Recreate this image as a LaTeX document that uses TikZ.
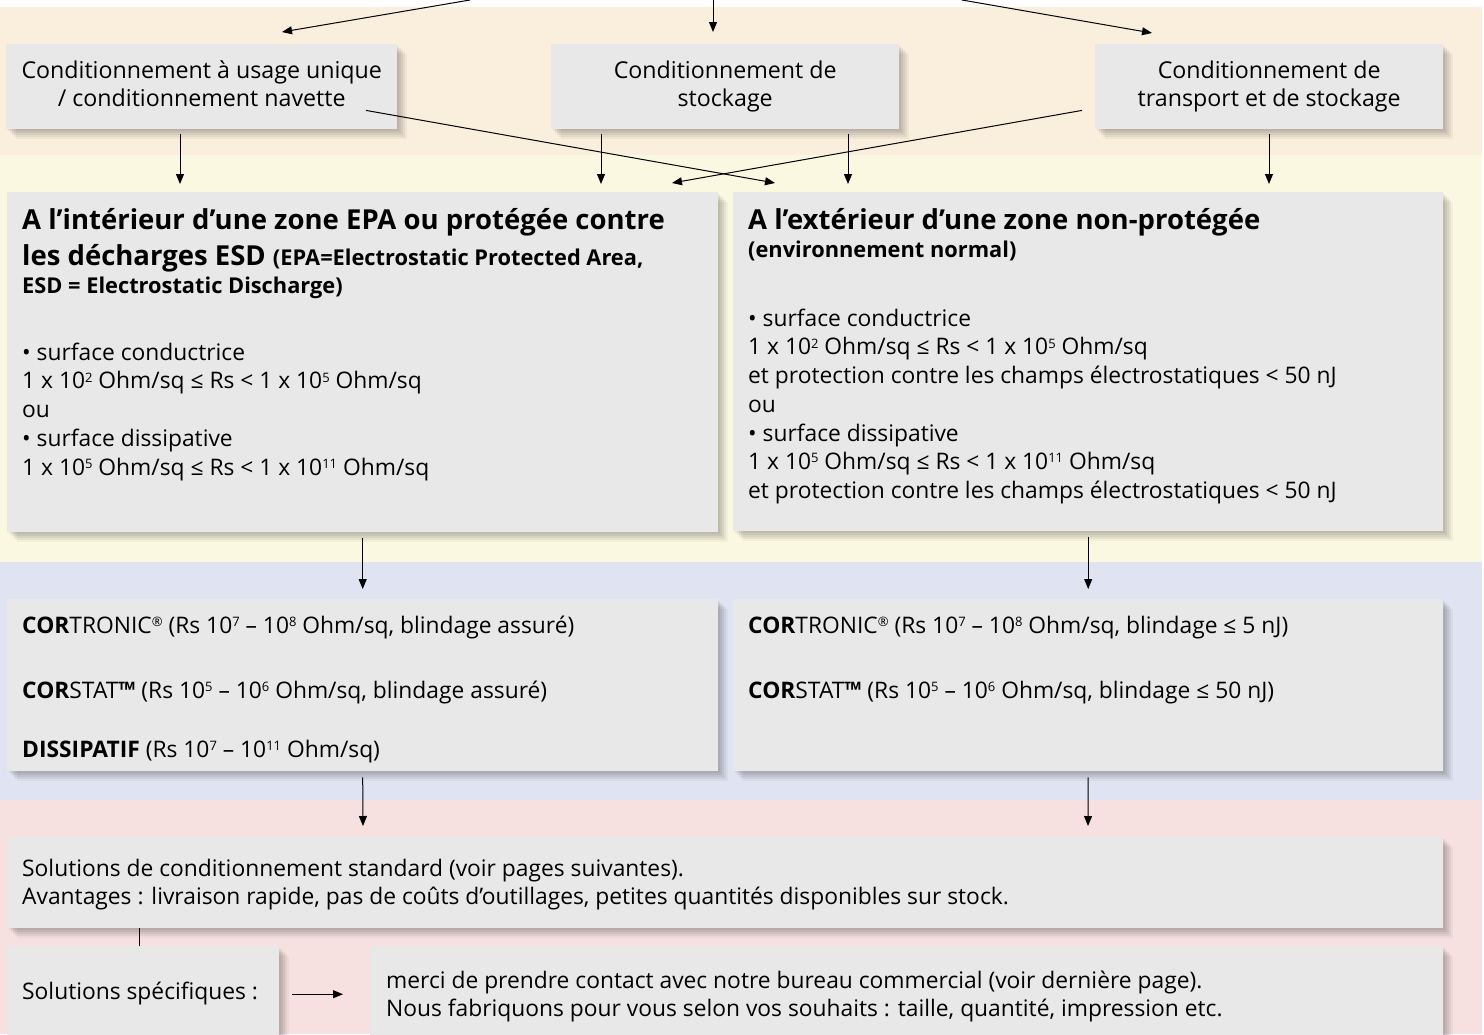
\documentclass[tikz,border=0pt]{standalone}
\usepackage{fontspec}
\setmainfont{Open Sans}
\usetikzlibrary{arrows.meta,shadows}

\definecolor{bandpeach}{RGB}{250,238,220}
\definecolor{bandyellow}{RGB}{251,248,226}
\definecolor{bandblue}{RGB}{224,227,241}
\definecolor{bandpink}{RGB}{246,225,224}
\definecolor{boxgray}{RGB}{232,232,232}

\newcommand{\topfont}{\fontsize{23.2}{28.5}\selectfont}
\newcommand{\bodyfont}{\fontsize{22.8}{28.7}\selectfont}
\newcommand{\headfont}{\fontsize{27.5}{36}\selectfont\bfseries}
\newcommand{\subfont}{\fontsize{21.8}{28}\selectfont\bfseries}
\newcommand{\supsmall}[1]{\raisebox{0.3em}{\fontsize{13}{13}\selectfont #1}}
\newcommand{\tenpow}[1]{10\supsmall{#1}}
\newcommand{\linetop}[1]{\rule{0pt}{#1}}
\newcommand{\linedepth}[1]{\rule[-#1]{0pt}{#1}}

\tikzset{
  softshadow/.style={
    general shadow={fill=black, opacity=0.06, shadow xshift=2pt, shadow yshift=-2pt},
    general shadow={fill=black, opacity=0.06, shadow xshift=4pt, shadow yshift=-4pt},
    general shadow={fill=black, opacity=0.06, shadow xshift=6pt, shadow yshift=-6pt},
    general shadow={fill=black, opacity=0.05, shadow xshift=8pt, shadow yshift=-8pt},
    general shadow={fill=black, opacity=0.04, shadow xshift=10pt, shadow yshift=-10pt}},
  box/.style={rectangle, fill=boxgray, anchor=north west, inner sep=0pt, softshadow},
  topbox/.style={minimum height=85pt, align=center, font=\topfont},
  txt/.style={anchor=north west, align=left, inner sep=0pt, font=\bodyfont},
  arr/.style={-{Triangle[length=10pt,width=8pt]}, line width=1pt},
}

\begin{document}
\begin{tikzpicture}[x=1pt, y=-1pt]
\useasboundingbox (0,0) rectangle (1484,1034);

% colour bands
\fill[bandpeach]  (0,7)   rectangle (1482,155);
\fill[bandyellow] (0,155) rectangle (1482,562);
\fill[bandblue]   (0,562) rectangle (1482,800);
\fill[bandpink]   (0,800) rectangle (1482,1034);

% packaging types
\node[box, topbox, minimum width=391pt] (usage) at (6,44) {Conditionnement à usage unique\\/ conditionnement navette\linedepth{6pt}};
\node[box, topbox, minimum width=348pt] (storage) at (551,44) {Conditionnement de\\stockage};
\node[box, topbox, minimum width=348pt] (transport) at (1095,44) {Conditionnement de\\transport et de stockage};

% zones
\node[box, minimum width=711pt, minimum height=340pt] (inside) at (7,192) {};
\node[box, minimum width=710pt, minimum height=339pt] (outside) at (733,192) {};

% materials
\node[box, minimum width=711pt, minimum height=172pt] (matin) at (7,599) {};
\node[box, minimum width=710pt, minimum height=172pt] (matout) at (733,599) {};

% solutions
\node[box, minimum width=1436pt, minimum height=91pt] (standard) at (7,837) {};
\node[box, minimum width=272pt, minimum height=96pt] (specific) at (7,946) {};
\node[box, minimum width=1073pt, minimum height=96pt] (contact) at (370,946) {};

% texts of the zones
\node[txt, font=\headfont] (insidehead) at (22,205) {\linetop{24pt}A l’intérieur d’une zone EPA ou protégée contre\\les décharges ESD {\subfont (EPA=Electrostatic Protected Area,}};
\node[txt, anchor=base west, font=\subfont] (insidesub) at (22,293) {ESD = Electrostatic Discharge)};
\node[txt] (insidebody) at (22,340) {\linetop{20pt}• surface conductrice\\1 x \tenpow{2} Ohm/sq ≤ Rs < 1 x \tenpow{5} Ohm/sq\\ou\\• surface dissipative\\1 x \tenpow{5} Ohm/sq ≤ Rs < 1 x \tenpow{11} Ohm/sq};

\node[txt, anchor=base west, font=\headfont] (outsidehead) at (748,229) {A l’extérieur d’une zone non-protégée};
\node[txt, anchor=base west, font=\subfont] (outsidesub) at (748,257) {(environnement normal)};
\node[txt] (outsidebody) at (748,306) {\linetop{20pt}• surface conductrice\\1 x \tenpow{2} Ohm/sq ≤ Rs < 1 x \tenpow{5} Ohm/sq\\et protection contre les champs électrostatiques < 50 nJ\\ou\\• surface dissipative\\1 x \tenpow{5} Ohm/sq ≤ Rs < 1 x \tenpow{11} Ohm/sq\\et protection contre les champs électrostatiques < 50 nJ};

% texts of the materials
\node[txt, anchor=base west] (cortronicin) at (22,633) {\textbf{COR}TRONIC\supsmall{®} (Rs \tenpow{7} – \tenpow{8} Ohm/sq, blindage assuré)};
\node[txt, anchor=base west] (corstatin) at (22,698) {\textbf{COR}STAT\textbf{™} (Rs \tenpow{5} – \tenpow{6} Ohm/sq, blindage assuré)};
\node[txt, anchor=base west] (dissipin) at (22,757) {\textbf{DISSIPATIF} (Rs \tenpow{7} – \tenpow{11} Ohm/sq)};
\node[txt, anchor=base west] (cortronicout) at (748,633) {\textbf{COR}TRONIC\supsmall{®} (Rs \tenpow{7} – \tenpow{8} Ohm/sq, blindage ≤ 5 nJ)};
\node[txt, anchor=base west] (corstatout) at (748,698) {\textbf{COR}STAT\textbf{™} (Rs \tenpow{5} – \tenpow{6} Ohm/sq, blindage ≤ 50 nJ)};

% texts of the solutions
\node[txt] (standardtxt) at (22,856) {\linetop{20pt}Solutions de conditionnement standard (voir pages suivantes).\\Avantages : livraison rapide, pas de coûts d’outillages, petites quantités disponibles sur stock.};
\node[txt, anchor=base west] (specifictxt) at (22,999) {Solutions spécifiques :};
\node[txt] (contacttxt) at (386,968) {\linetop{20pt}merci de prendre contact avec notre bureau commercial (voir dernière page).\\Nous fabriquons pour vous selon vos souhaits : taille, quantité, impression etc.};

% arrows from above
\coordinate (srcL) at (470,0);
\coordinate (srcM) at (713,0);
\coordinate (srcR) at (962,0);
\draw[arr] (srcL) -- ([shift={(276,-12)}]usage.north west);
\draw[arr] (srcM) -- ([shift={(162,-12)}]storage.north west);
\draw[arr] (srcR) -- ([shift={(57,-11)}]transport.north west);

% packaging -> zones
\draw[arr] ([shift={(174,5)}]usage.south west) -- ([shift={(173,-8)}]inside.north west);
\draw[arr] ([shift={(50,5)}]storage.south west) -- ([shift={(594,-8)}]inside.north west);
\draw[arr] ([shift={(297,5)}]storage.south west) -- ([shift={(115,-8)}]outside.north west);
\draw[arr] ([shift={(174,5)}]transport.south west) -- ([shift={(536,-8)}]outside.north west);
\draw[arr] ([shift={(360,-19)}]usage.south west) -- ([shift={(42,-9)}]outside.north west);
\draw[arr] ([shift={(-13,-19)}]transport.south west) -- ([shift={(665,-9)}]inside.north west);

% zones -> materials -> solutions
\draw[arr] ([yshift=-6pt]inside.south) -- ([yshift=10pt]matin.north);
\draw[arr] ([yshift=-6pt]outside.south) -- ([yshift=10pt]matout.north);
\draw[arr] ([yshift=-6pt]matin.south) -- ([shift={(356,-11)}]standard.north west);
\draw[arr] ([yshift=-6pt]matout.south) -- ([shift={(1081,-11)}]standard.north west);
\draw[line width=1pt] ([xshift=132pt]standard.south west) -- ([xshift=132pt]specific.north west);
\draw[arr] ([xshift=13pt]specific.east) -- ([xshift=-27pt]contact.west);

\end{tikzpicture}
\end{document}
